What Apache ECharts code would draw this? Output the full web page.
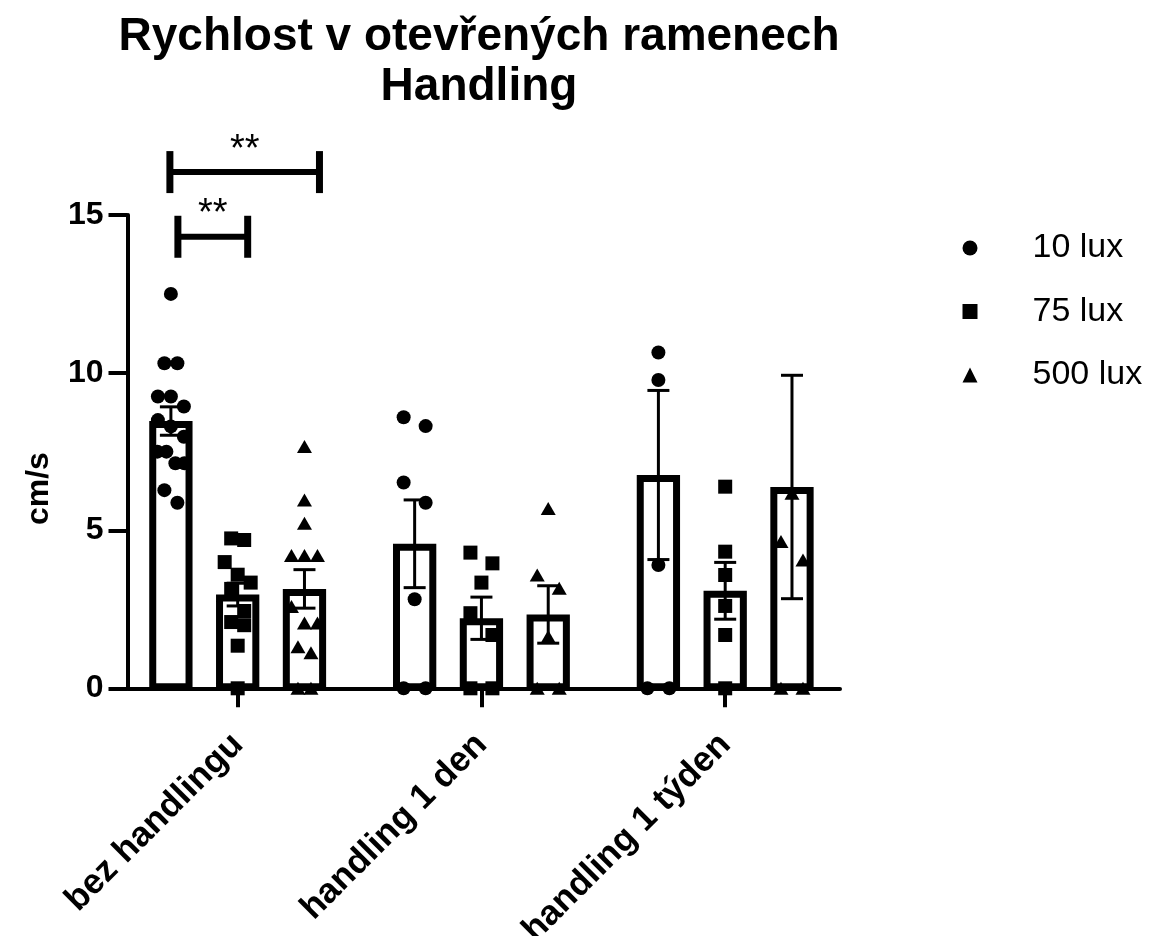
<!DOCTYPE html>
<html>
<head>
<meta charset="utf-8">
<script src="https://cdn.jsdelivr.net/npm/echarts@6/dist/echarts.min.js"></script>
<style>
  html, body { margin: 0; padding: 0; background: #fff; }
  #chart { width: 1149px; height: 936px; }
</style>
</head>
<body>
<div id="chart"></div>
<script>
// ---- data ----
const categories = ['bez handlingu', 'handling 1 den', 'handling 1 týden'];
const seriesNames = ['10 lux', '75 lux', '500 lux'];
const yTicks = [0, 5, 10, 15];

// group means (bar heights) and SEM (error bars), one value per category
const mean10 = [8.47, 4.58, 6.76];
const sem10 = [0.45, 1.39, 2.68];
const mean75 = [2.97, 2.22, 3.09];
const sem75 = [0.36, 0.67, 0.90];
const mean500 = [3.15, 2.34, 6.38];
const sem500 = [0.61, 0.91, 3.54];

// individual animals, cm/s
const points10 = [
  [12.5, 10.3, 10.3, 9.25, 9.25, 8.93, 8.5, 8.3, 7.97, 7.5, 7.5, 7.13, 7.13, 6.28, 5.88],
  [8.59, 8.31, 6.52, 5.88, 2.82, 0, 0],
  [10.64, 9.77, 3.91, 0, 0]
];
const points75 = [
  [4.75, 4.7, 4.0, 3.6, 3.35, 3.15, 2.45, 2.1, 2.0, 1.35, 0],
  [4.3, 3.96, 3.35, 2.38, 1.69, 0, 0],
  [6.39, 4.33, 3.59, 2.61, 1.69, 0]
];
const points500 = [
  [7.66, 5.97, 5.23, 4.21, 4.21, 4.21, 2.59, 2.07, 2.07, 1.32, 1.13, 0, 0],
  [5.7, 3.59, 3.17, 1.64, 0, 0],
  [6.18, 4.65, 4.07, 0, 0]
];

// significance comparisons within "bez handlingu": bar index from -> to
const significance = [
  { group: 0, from: 0, to: 2, label: '**' },
  { group: 0, from: 0, to: 1, label: '**' }
];

// ---- layout ----
const FONT = "'Liberation Sans', Arial, Helvetica, sans-serif";
const GRID = { left: 127.5, right: 309, top: 215, bottom: 247.7 };
const X_MIN = -0.452, X_MAX = 2.471;
const PX_PER_X = (1149 - GRID.left - GRID.right) / (X_MAX - X_MIN);
const BAR_SPACING = 0.274;          // distance between neighbouring bars, x units
const BAR_OUTER_PX = 43.3;
const BAR_BORDER = 7;
const CAP_PX = 22;
const BIN_H = 0.7;                   // points closer than this share a row
const BRACKET_LEVELS = [16.36, 14.31];
const BRACKET_END_SHIFT = [[-1, 15], [7, 10]];   // px nudges of the bracket ends
const BRACKET_ARM = 21;

const means = [mean10, mean75, mean500];
const sems = [sem10, sem75, sem500];
const pointSets = [points10, points75, points500];
const symbols = ['circle', 'rect', 'triangle'];
const symbolSizes = [14, 14, [15, 13]];

function barX(g, s) { return g + (s - 1) * BAR_SPACING; }

// horizontal spreading of the dots: rows of near-equal values are centred on the bar
function spreadOffsets(values) {
  const n = values.length;
  const order = values.map((v, i) => i).sort((a, b) => values[b] - values[a]);
  const offsets = new Array(n).fill(0);
  const maxStep = n > 10 ? 13 : 22;
  let bin = [];
  const flush = () => {
    const k = bin.length;
    const step = k > 1 ? Math.min(maxStep, 27 / (k - 1)) : 0;
    bin.forEach((idx, i) => { offsets[idx] = (i - (k - 1) / 2) * step / PX_PER_X; });
    bin = [];
  };
  order.forEach(idx => {
    if (bin.length && values[bin[0]] - values[idx] > BIN_H) flush();
    bin.push(idx);
  });
  flush();
  return offsets;
}

const barData = [], errData = [];
means.forEach((arr, s) => arr.forEach((m, g) => {
  barData.push([barX(g, s), m]);
  errData.push([barX(g, s), m, sems[s][g]]);
}));

const scatterSeries = pointSets.map((sets, s) => {
  const data = [];
  sets.forEach((vals, g) => {
    const off = spreadOffsets(vals);
    vals.forEach((v, i) => data.push([barX(g, s) + off[i], v]));
  });
  return {
    name: seriesNames[s],
    type: 'scatter',
    symbol: symbols[s],
    symbolSize: symbolSizes[s],
    itemStyle: { color: '#000', opacity: 1 },
    data: data,
    z: 5,
    silent: true
  };
});

const bracketData = significance.map((c, i) => [
  barX(c.group, c.from), barX(c.group, c.to), BRACKET_LEVELS[i], i
]);

const chart = echarts.init(document.getElementById('chart'), null, { renderer: 'canvas' });

chart.setOption({
  backgroundColor: '#fff',
  animation: false,
  title: {
    text: 'Rychlost v otevřených ramenech\nHandling',
    left: 479,
    top: 12,
    padding: 0,
    textAlign: 'center',
    textStyle: { fontFamily: FONT, fontSize: 46, fontWeight: 'bold', color: '#000', lineHeight: 50 }
  },
  legend: {
    orient: 'vertical',
    left: 962.5,
    top: 228,
    padding: 0,
    itemWidth: 15,
    itemHeight: 15,
    itemGap: 23.5,
    selectedMode: false,
    data: seriesNames,
    textStyle: { fontFamily: FONT, fontSize: 34, color: '#000', lineHeight: 40, padding: [0, 0, 0, 50] }
  },
  grid: {
    left: GRID.left, right: GRID.right, top: GRID.top, bottom: GRID.bottom,
    containLabel: false,
    outerBoundsMode: 'none'
  },
  xAxis: {
    type: 'value',
    min: X_MIN,
    max: X_MAX,
    splitLine: { show: false },
    axisLine: { show: true, onZero: false, lineStyle: { color: '#000', width: 4 } },
    axisTick: { show: true, customValues: [0, 1, 2], length: 19, lineStyle: { color: '#000', width: 4 } },
    axisLabel: {
      show: true,
      customValues: [0, 1, 2],
      formatter: v => categories[Math.round(v)],
      rotate: 45,
      margin: 51,
      fontFamily: FONT, fontSize: 35, fontWeight: 'bold', color: '#000'
    }
  },
  yAxis: {
    type: 'value',
    min: yTicks[0],
    max: yTicks[yTicks.length - 1],
    interval: yTicks[1] - yTicks[0],
    name: 'cm/s',
    nameLocation: 'middle',
    nameGap: 72,
    nameTextStyle: { fontFamily: FONT, fontSize: 32, fontWeight: 'bold', color: '#000', padding: [0, 74, 0, 0] },
    splitLine: { show: false },
    axisLine: { show: true, onZero: false, lineStyle: { color: '#000', width: 4 } },
    axisTick: { show: true, length: 19, lineStyle: { color: '#000', width: 4 } },
    axisLabel: { margin: 24, fontFamily: FONT, fontSize: 32, fontWeight: 'bold', color: '#000' }
  },
  series: [
    {
      name: 'bars',
      type: 'custom',
      silent: true,
      z: 2,
      data: barData,
      renderItem: (params, api) => {
        const x = api.value(0), m = api.value(1);
        const top = api.coord([x, m]);
        const base = api.coord([x, 0]);
        const bw = BAR_BORDER;
        return {
          type: 'rect',
          shape: {
            x: top[0] - BAR_OUTER_PX / 2 + bw / 2,
            y: top[1] + bw / 2,
            width: BAR_OUTER_PX - bw,
            height: (base[1] - 1.5) - (top[1] + bw / 2)
          },
          style: { fill: '#fff', stroke: '#000', lineWidth: bw }
        };
      }
    },
    {
      name: 'sem',
      type: 'custom',
      silent: true,
      z: 3,
      data: errData,
      renderItem: (params, api) => {
        const x = api.value(0), m = api.value(1), e = api.value(2);
        const hi = api.coord([x, m + e]);
        const lo = api.coord([x, m - e]);
        const c = CAP_PX / 2;
        const st = { stroke: '#000', lineWidth: 3 };
        return {
          type: 'group',
          children: [
            { type: 'line', shape: { x1: hi[0], y1: hi[1], x2: lo[0], y2: lo[1] }, style: st },
            { type: 'line', shape: { x1: hi[0] - c, y1: hi[1], x2: hi[0] + c, y2: hi[1] }, style: st },
            { type: 'line', shape: { x1: lo[0] - c, y1: lo[1], x2: lo[0] + c, y2: lo[1] }, style: st }
          ]
        };
      }
    },
    ...scatterSeries,
    {
      name: 'significance',
      type: 'custom',
      silent: true,
      clip: false,
      z: 6,
      data: bracketData,
      renderItem: (params, api) => {
        const i = api.value(3);
        const a = api.coord([api.value(0), api.value(2)]);
        const b = api.coord([api.value(1), api.value(2)]);
        const x1 = a[0] + BRACKET_END_SHIFT[i][0];
        const x2 = b[0] + BRACKET_END_SHIFT[i][1];
        const y = a[1];
        const st = { stroke: '#000', lineWidth: 6 };
        return {
          type: 'group',
          children: [
            { type: 'line', shape: { x1: x1, y1: y, x2: x2, y2: y }, style: st },
            { type: 'line', shape: { x1: x1, y1: y - BRACKET_ARM, x2: x1, y2: y + BRACKET_ARM }, style: { stroke: '#000', lineWidth: 7 } },
            { type: 'line', shape: { x1: x2, y1: y - BRACKET_ARM, x2: x2, y2: y + BRACKET_ARM }, style: { stroke: '#000', lineWidth: 7 } },
            {
              type: 'text',
              style: {
                text: significance[i].label,
                x: (x1 + x2) / 2, y: y - 22,
                align: 'center', verticalAlign: 'middle',
                fontFamily: FONT, fontSize: 38, fill: '#000'
              }
            }
          ]
        };
      }
    }
  ]
});
</script>
</body>
</html>
